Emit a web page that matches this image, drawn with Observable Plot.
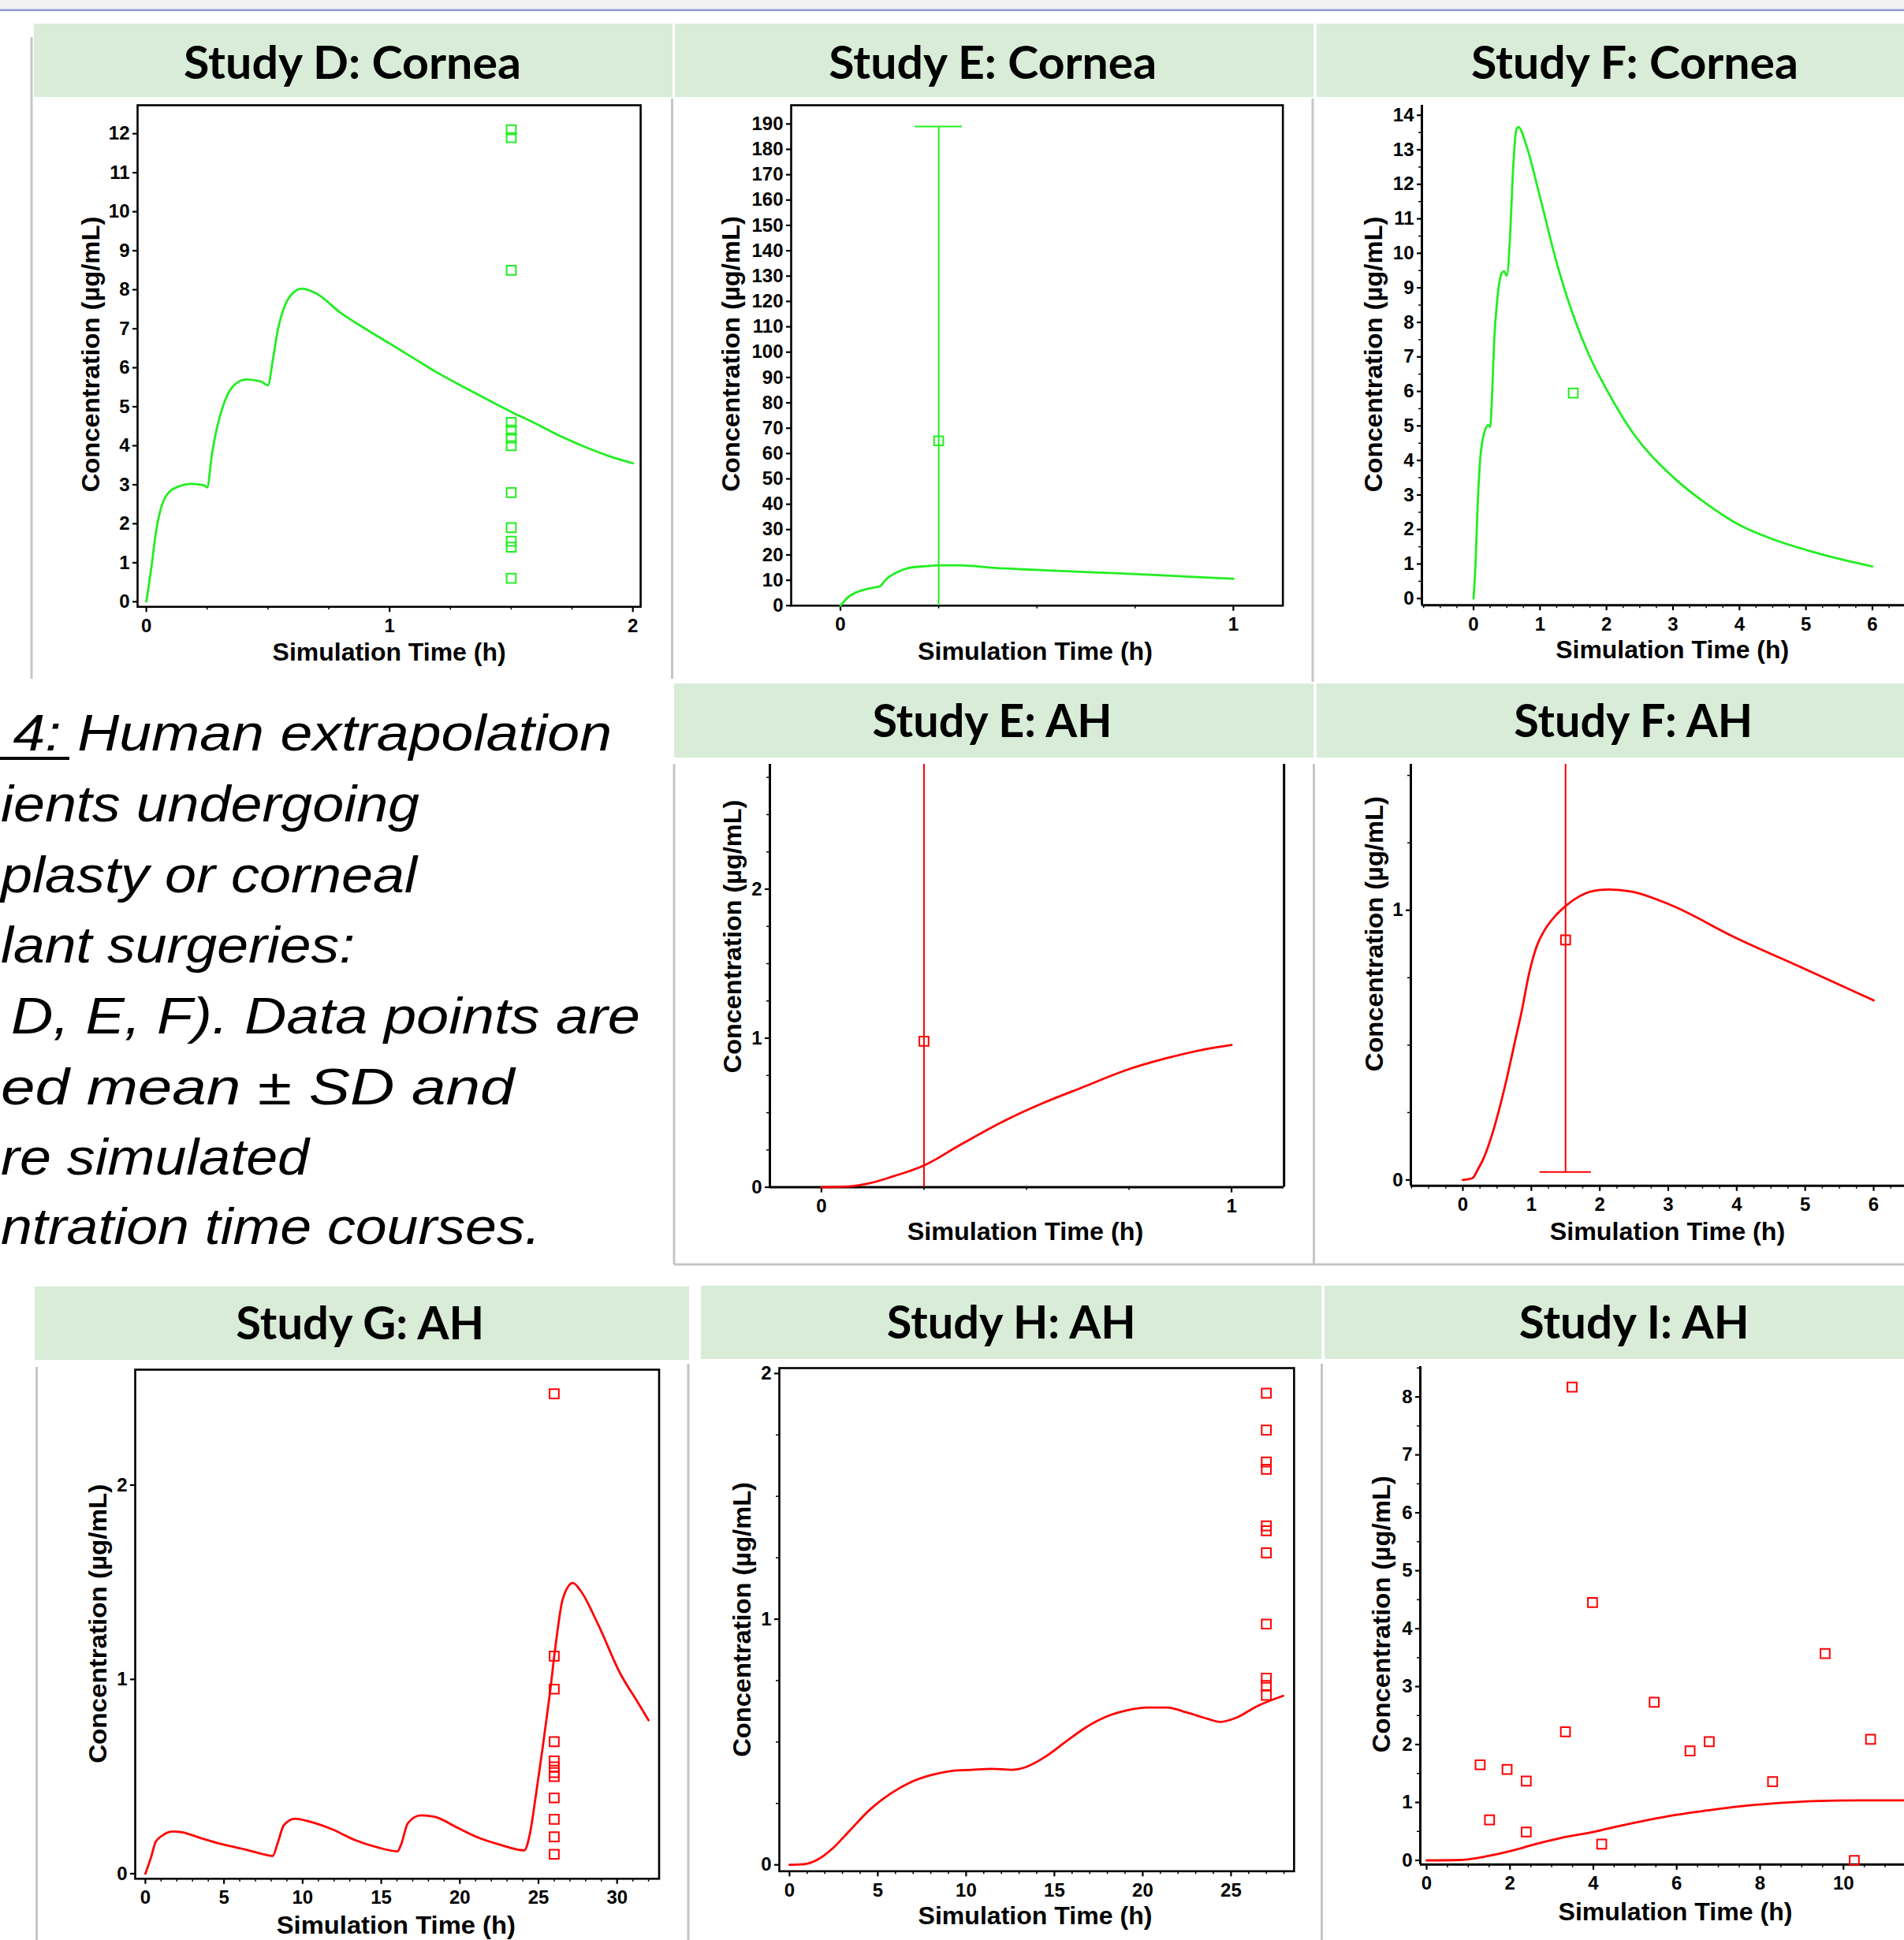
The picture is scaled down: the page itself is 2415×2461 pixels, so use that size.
<!DOCTYPE html>
<html>
<head>
<meta charset="utf-8">
<script src="https://cdn.jsdelivr.net/npm/d3@7"></script>
<script src="https://cdn.jsdelivr.net/npm/@observablehq/plot@0.6"></script>
<style>
html, body { margin: 0; padding: 0; background: #fff; }
#page { position: relative; width: 2415px; height: 2461px; overflow: hidden; background: #fff; }
.chart { position: absolute; }
.chart svg { max-width: none !important; display: block; overflow: visible; }
svg.layer { position: absolute; left: 0; top: 0; }
</style>
</head>
<body>
<div id="page"></div>
<script>
// ---------------- DATA ----------------
const GREEN = "#22ee22";
const RED = "#ff0000";

// Study D: Cornea
const dSimTime = [0, 0.02, 0.04, 0.08, 0.13, 0.18, 0.24, 0.25, 0.27, 0.29, 0.32, 0.36, 0.41, 0.47, 0.5, 0.52, 0.54, 0.57, 0.6, 0.64, 0.7, 0.8, 0.9, 1.0, 1.1, 1.2, 1.3, 1.4, 1.5, 1.6, 1.7, 1.8, 1.9, 2.0];
const dSimConc = [0, 0.85, 1.8, 2.7, 2.95, 3.02, 2.98, 2.93, 3.8, 4.45, 5.1, 5.55, 5.7, 5.65, 5.55, 6.2, 6.95, 7.6, 7.9, 8.03, 7.9, 7.4, 7.0, 6.62, 6.24, 5.86, 5.52, 5.19, 4.87, 4.57, 4.25, 3.98, 3.74, 3.55];
const dObsTime = [1.5, 1.5, 1.5, 1.5, 1.5, 1.5, 1.5, 1.5, 1.5, 1.5, 1.5, 1.5];
const dObsConc = [12.1, 11.9, 8.5, 4.6, 4.4, 4.2, 4.0, 2.8, 1.9, 1.55, 1.4, 0.6];

// Study E: Cornea
const eCorSimTime = [0, 0.02, 0.05, 0.08, 0.1, 0.115, 0.145, 0.175, 0.22, 0.25, 0.3, 0.4, 0.5, 0.6, 0.7, 0.8, 0.9, 1.0];
const eCorSimConc = [0, 3.4, 5.8, 7.0, 7.6, 10.2, 13.2, 14.9, 15.6, 15.9, 15.9, 14.8, 14.1, 13.4, 12.8, 12.1, 11.3, 10.6];
const eCorObsTime = [0.25];
const eCorObsConc = [65];
const eCorObsSD = [124];

// Study F: Cornea
const fCorSimTime = [0, 0.03, 0.063, 0.1, 0.16, 0.22, 0.25, 0.28, 0.31, 0.36, 0.42, 0.46, 0.5, 0.55, 0.59, 0.645, 0.675, 0.79, 1.0, 1.25, 1.5, 1.75, 2.0, 2.4, 3.0, 3.5, 4.0, 4.5, 5.0, 5.5, 6.0];
const fCorSimConc = [0, 1.0, 2.76, 4.03, 4.79, 5.02, 4.97, 5.93, 7.45, 8.72, 9.41, 9.48, 9.35, 10.5, 12.26, 13.59, 13.66, 13.15, 11.63, 9.73, 8.2, 7.0, 6.06, 4.79, 3.52, 2.75, 2.13, 1.72, 1.41, 1.15, 0.93];
const fCorObsTime = [1.5];
const fCorObsConc = [5.95];

// Study E: AH
const eAhSimTime = [0, 0.065, 0.116, 0.176, 0.25, 0.337, 0.437, 0.538, 0.638, 0.739, 0.839, 0.94, 1.0];
const eAhSimConc = [0, 0.005, 0.026, 0.074, 0.146, 0.282, 0.433, 0.562, 0.672, 0.782, 0.864, 0.928, 0.954];
const eAhObsTime = [0.25];
const eAhObsConc = [0.98];
const eAhObsSD = [2.0];

// Study F: AH
const fAhSimTime = [0, 0.139, 0.22, 0.305, 0.416, 0.527, 0.638, 0.749, 0.86, 0.97, 1.08, 1.19, 1.36, 1.525, 1.69, 1.913, 2.135, 2.468, 2.995, 3.993, 4.99, 6.0];
const fAhSimConc = [0, 0.007, 0.04, 0.082, 0.16, 0.259, 0.373, 0.5, 0.627, 0.769, 0.868, 0.925, 0.982, 1.021, 1.05, 1.072, 1.077, 1.069, 1.024, 0.897, 0.783, 0.666];
const fAhObsTime = [1.5];
const fAhObsConc = [0.89];
const fAhObsSD = [0.86];

// Study G: AH
const gSimTime = [0, 0.37, 0.65, 1.07, 1.77, 2.34, 3.46, 4.87, 6.28, 7.4, 8.1, 8.39, 8.81, 9.51, 10.5, 11.9, 13.3, 14.7, 16.04, 16.27, 16.69, 17.53, 18.38, 19.79, 21.19, 22.6, 24.09, 24.43, 24.85, 25.27, 25.7, 26.12, 26.54, 27.19, 27.67, 28.79, 30.2, 31.33, 32.0];
const gSimConc = [0, 0.087, 0.163, 0.196, 0.217, 0.213, 0.185, 0.152, 0.126, 0.102, 0.091, 0.152, 0.25, 0.283, 0.267, 0.228, 0.174, 0.137, 0.115, 0.152, 0.26, 0.3, 0.293, 0.239, 0.185, 0.148, 0.12, 0.196, 0.413, 0.652, 0.913, 1.196, 1.413, 1.496, 1.457, 1.283, 1.03, 0.88, 0.79];
const gObsTime = [26, 26, 26, 26, 26, 26, 26, 26, 26, 26, 26, 26];
const gObsConc = [2.47, 1.12, 0.95, 0.68, 0.58, 0.55, 0.52, 0.50, 0.39, 0.28, 0.19, 0.10];

// Study H: AH
const hSimTime = [0, 0.85, 1.55, 2.47, 3.39, 4.54, 5.7, 6.85, 8.0, 9.16, 10.31, 11.46, 12.6, 13.3, 14.46, 15.6, 16.77, 17.9, 19.07, 20.2, 21.38, 22.5, 23.7, 24.38, 25.3, 26.45, 27.95];
const hSimConc = [0, 0.003, 0.02, 0.069, 0.138, 0.224, 0.289, 0.336, 0.365, 0.382, 0.387, 0.391, 0.387, 0.396, 0.439, 0.499, 0.559, 0.602, 0.628, 0.64, 0.64, 0.62, 0.594, 0.582, 0.599, 0.645, 0.688];
const hObsTime = [27, 27, 27, 27, 27, 27, 27, 27, 27, 27, 27];
const hObsConc = [1.92, 1.77, 1.64, 1.61, 1.38, 1.36, 1.27, 0.98, 0.76, 0.73, 0.69];

// Study I: AH
const iSimTime = [0, 0.79, 1.24, 1.6, 2.05, 2.59, 3.22, 4.03, 4.56, 5.28, 6.0, 6.72, 7.53, 8.34, 9.24, 10.4, 11.46, 12.0];
const iSimConc = [0, 0.007, 0.044, 0.095, 0.168, 0.277, 0.387, 0.496, 0.584, 0.693, 0.788, 0.861, 0.934, 0.985, 1.022, 1.036, 1.036, 1.036];
const iObsTime = [1.285, 1.51, 1.93, 2.39, 2.39, 3.33, 3.49, 3.98, 4.2, 5.46, 6.32, 6.78, 8.3, 9.56, 10.26, 10.65];
const iObsConc = [1.65, 0.70, 1.57, 1.37, 0.49, 2.22, 8.17, 4.45, 0.28, 2.73, 1.89, 2.05, 1.36, 3.57, 0.0, 2.09];

// Tick labels
const ticks0to2 = [0, 1, 2];
const ticks0to1 = [0, 1];
const ticks0to6 = [0, 1, 2, 3, 4, 5, 6];
const ticksD_y = [0, 1, 2, 3, 4, 5, 6, 7, 8, 9, 10, 11, 12];
const ticksE_y = [0, 10, 20, 30, 40, 50, 60, 70, 80, 90, 100, 110, 120, 130, 140, 150, 160, 170, 180, 190];
const ticksF_y = [0, 1, 2, 3, 4, 5, 6, 7, 8, 9, 10, 11, 12, 13, 14];
const ticksG_x = [0, 5, 10, 15, 20, 25, 30];
const ticksH_x = [0, 5, 10, 15, 20, 25];
const ticksI_x = [0, 2, 4, 6, 8, 10];
const ticksI_y = [0, 1, 2, 3, 4, 5, 6, 7, 8];

// Text
const panelTitles = ["Study D: Cornea", "Study E: Cornea", "Study F: Cornea", "Study E: AH", "Study F: AH", "Study G: AH", "Study H: AH", "Study I: AH"];
const xTitle = "Simulation Time (h)";
const yTitle = "Concentration (µg/mL)";
const captionLines = ["4: Human extrapolation", "ients undergoing", "plasty or corneal", "lant surgeries:", "D, E, F). Data points are", "ed mean ± SD and", "re simulated", "ntration time courses."];

// ---------------- LAYOUT ----------------
const PW = 2415, PH = 2461;
const page = d3.select("#page");
const minor = (a, b, s, skip) => d3.range(a, b + 1e-9, s).filter(v => Math.abs(v / skip - Math.round(v / skip)) > 1e-6);

// background layer
const bg = page.append("svg").attr("class", "layer").attr("width", PW).attr("height", PH);
bg.append("rect").attr("x", 0).attr("y", 0).attr("width", PW).attr("height", 11.5).attr("fill", "#f2f2f2");
bg.append("rect").attr("x", 0).attr("y", 11.5).attr("width", PW).attr("height", 2.6).attr("fill", "#8f9bd3");
const bands = [
  [43, 30, 810, 93], [856, 30, 810, 93], [1670, 30, 760, 93],
  [855, 867, 811, 94], [1670, 867, 760, 94],
  [44, 1632, 830, 93], [889, 1631, 787, 93], [1680, 1631, 740, 93]
];
bands.forEach(b => bg.append("rect").attr("x", b[0]).attr("y", b[1]).attr("width", b[2]).attr("height", b[3]).attr("fill", "#d8ecd7"));
const seps = [
  [40, 47, 40, 861], [852.5, 125, 852.5, 861], [1665, 125, 1665, 865],
  [855, 969, 855, 1604], [1666.5, 969, 1666.5, 1604], [855, 1604, 2415, 1604],
  [46.5, 1734, 46.5, 2461], [873, 1730, 873, 2461], [1676.5, 1730, 1676.5, 2461]
];
seps.forEach(s => bg.append("line").attr("x1", s[0]).attr("y1", s[1]).attr("x2", s[2]).attr("y2", s[3]).attr("stroke", "#c6c6c6").attr("stroke-width", 3));

const tickFont = {fontFamily: "'Liberation Sans', Arial, sans-serif", fontWeight: "bold", fontSize: 24};

function drawChart(c) {
  const mL = 95, mR = 12, mT = 12, mB = 60;
  const [l, r, t, b] = c.frame;
  const fw = r - l, fh = b - t;
  const width = fw + mL + mR, height = fh + mT + mB;
  const sim = c.simT.map((x, i) => ({t: x, c: c.simC[i]}));
  const obs = c.obsT.map((x, i) => ({t: x, c: c.obsC[i], sd: c.obsSD ? c.obsSD[i] : 0}));
  const marks = [];
  if (c.box === "full") {
    marks.push(Plot.frame({stroke: "black", strokeWidth: 2.6}));
  } else {
    marks.push(Plot.ruleX([c.xd[0]], {stroke: "black", strokeWidth: 3}));
    marks.push(Plot.ruleY([c.yd[0]], {stroke: "black", strokeWidth: 3}));
    if (c.box === "openTop") marks.push(Plot.ruleX([c.xd[1]], {stroke: "black", strokeWidth: 3}));
  }
  if (c.xMin) marks.push(Plot.axisX({ticks: c.xMin, tickSize: 4, tickFormat: () => "", strokeWidth: 1.5, label: null}));
  if (c.yMin) marks.push(Plot.axisY({ticks: c.yMin, tickSize: 4, tickFormat: () => "", strokeWidth: 1.5, label: null}));
  marks.push(Plot.axisX({ticks: c.xMaj, tickSize: 7, tickPadding: 8, strokeWidth: 2.2, label: null, tickFormat: d => String(d), ...tickFont}));
  marks.push(Plot.axisY({ticks: c.yMaj, tickSize: 6, tickPadding: 4, strokeWidth: 2.2, label: null, tickFormat: d => String(d), ...tickFont}));
  marks.push(Plot.line(sim, {x: "t", y: "c", stroke: c.color, strokeWidth: 2.8, curve: "monotone-x"}));
  if (c.obsSD) {
    marks.push(Plot.ruleX(obs, {x: "t", y1: d => d.c - d.sd, y2: d => d.c + d.sd, stroke: c.color, strokeWidth: 2}));
    const caps = [];
    obs.forEach(d => {
      [d.c - d.sd, d.c + d.sd].forEach(v => { if (v >= c.yd[0] && v <= c.yd[1]) caps.push({t: d.t, v}); });
    });
    marks.push(Plot.ruleY(caps, {y: "v", x1: d => d.t - c.cap, x2: d => d.t + c.cap, stroke: c.color, strokeWidth: 2}));
  }
  marks.push(Plot.dot(obs, {x: "t", y: "c", symbol: "square", r: 6.6, stroke: c.color, fill: "none", strokeWidth: 2}));

  const svg = Plot.plot({
    width, height,
    marginLeft: mL, marginRight: mR, marginTop: mT, marginBottom: mB,
    x: {domain: c.xd, label: null},
    y: {domain: c.yd, label: null, clamp: true},
    style: {fontFamily: "'Liberation Sans', Arial, sans-serif", fontWeight: "bold", fontSize: "24px", color: "black", background: "transparent", overflow: "visible", maxWidth: "none"},
    marks
  });
  page.append("div").attr("class", "chart")
    .style("left", (l - mL) + "px").style("top", (t - mT) + "px")
    .style("width", width + "px").style("height", height + "px")
    .node().appendChild(svg);
}

const charts = [
  {frame: [174.4, 812.5, 133.2, 769.5], xd: [-0.036, 2.032], yd: [-0.13, 12.73], box: "full", color: GREEN,
   xMaj: ticks0to2, xMin: minor(0, 2, 0.25, 1), yMaj: ticksD_y,
   simT: dSimTime, simC: dSimConc, obsT: dObsTime, obsC: dObsConc},
  {frame: [1003, 1626.7, 133.2, 768], xd: [-0.1254, 1.126], yd: [0, 197.4], box: "full", color: GREEN,
   xMaj: ticks0to1, xMin: minor(0, 1, 0.25, 1), yMaj: ticksE_y,
   simT: eCorSimTime, simC: eCorSimConc, obsT: eCorObsTime, obsC: eCorObsConc, obsSD: eCorObsSD, cap: 0.06},
  {frame: [1802.5, 2440, 133.2, 767.4], xd: [-0.7767, 6.783], yd: [-0.192, 14.29], box: "L", color: GREEN,
   xMaj: ticks0to6, xMin: minor(-0.75, 6.75, 0.25, 1), yMaj: ticksF_y, yMin: minor(0, 14, 0.5, 1),
   simT: fCorSimTime, simC: fCorSimConc, obsT: fCorObsTime, obsC: fCorObsConc},
  {frame: [975.5, 1627.7, 969, 1505.6], xd: [-0.1257, 1.128], yd: [0, 2.838], box: "openTop", color: RED,
   xMaj: ticks0to1, xMin: minor(0, 1, 0.25, 1), yMaj: ticks0to2, yMin: minor(0, 2.75, 0.25, 1),
   simT: eAhSimTime, simC: eAhSimConc, obsT: eAhObsTime, obsC: eAhObsConc, obsSD: eAhObsSD, cap: 0.06},
  {frame: [1789, 2440, 969, 1503.7], xd: [-0.76, 6.737], yd: [-0.0213, 1.5414], box: "L", color: RED,
   xMaj: ticks0to6, xMin: minor(-0.75, 6.75, 0.25, 1), yMaj: ticks0to1, yMin: minor(0, 1.5, 0.25, 1),
   simT: fAhSimTime, simC: fAhSimConc, obsT: fAhObsTime, obsC: fAhObsConc, obsSD: fAhObsSD, cap: 0.375},
  {frame: [170.6, 835.1, 1736.9, 2382.7], xd: [-0.647, 32.67], yd: [-0.026, 2.594], box: "full", color: RED,
   xMaj: ticksG_x, xMin: minor(0, 32, 1, 5), yMaj: ticks0to2,
   simT: gSimTime, simC: gSimConc, obsT: gObsTime, obsC: gObsConc},
  {frame: [987.8, 1640.7, 1735.3, 2373.6], xd: [-0.576, 28.57], yd: [-0.026, 2.022], box: "full", color: RED,
   xMaj: ticksH_x, xMin: minor(0, 28, 1, 5), yMaj: ticks0to2, yMin: minor(0, 2, 0.25, 1),
   simT: hSimTime, simC: hSimConc, obsT: hObsTime, obsC: hObsConc},
  {frame: [1800.7, 2440, 1732.6, 2364.4], xd: [-0.151, 11.94], yd: [-0.072, 8.525], box: "L", color: RED,
   xMaj: ticksI_x, xMin: minor(0, 11.5, 0.5, 2), yMaj: ticksI_y, yMin: minor(0, 8.5, 0.5, 1),
   simT: iSimTime, simC: iSimConc, obsT: iObsTime, obsC: iObsConc}
];
charts.forEach(drawChart);

// text layer
const tx = page.append("svg").attr("class", "layer").attr("width", PW).attr("height", PH);
// panel titles: [cx, baseline, width]
const titlePos = [[447, 99.5, 428], [1259.3, 99.5, 416], [2073.5, 99.5, 415], [1258.5, 935, 304], [2071.7, 935, 303], [456.8, 1699, 315], [1282.8, 1698, 316], [2072.7, 1698, 292]];
panelTitles.forEach((s, i) => {
  const [x, y, w] = titlePos[i];
  tx.append("text").attr("x", x).attr("y", y).attr("text-anchor", "middle")
    .attr("font-family", "Lato, 'Open Sans', sans-serif").attr("font-weight", 700).attr("font-size", 58)
    .attr("textLength", w).attr("lengthAdjust", "spacingAndGlyphs").attr("fill", "#000").text(s);
});
// y axis titles: [baseline x, center y, width]
const yTitlePos = [[125.5, 449.5, 349.6], [938, 449, 349.6], [1753, 449.4, 349.6], [940, 1188, 346.6], [1754, 1184.7, 349], [134.5, 2059.8, 354], [951.5, 2054.4, 348.7], [1762.5, 2047.7, 351.3]];
yTitlePos.forEach(([x, y, w]) => {
  tx.append("text").attr("transform", `translate(${x},${y}) rotate(-90)`).attr("text-anchor", "middle")
    .attr("font-family", "'Liberation Sans', Arial, sans-serif").attr("font-weight", 700).attr("font-size", 32)
    .attr("textLength", w).attr("lengthAdjust", "spacingAndGlyphs").attr("fill", "#000").text(yTitle);
});
// x axis titles: [cx, baseline, width]
const xTitlePos = [[493.6, 838, 296], [1313, 837, 298], [2121.2, 835, 296], [1300.5, 1572.5, 299.7], [2115, 1572.5, 298.5], [502.3, 2453, 303], [1313, 2440.5, 297], [2125, 2436, 297]];
xTitlePos.forEach(([x, y, w]) => {
  tx.append("text").attr("x", x).attr("y", y).attr("text-anchor", "middle")
    .attr("font-family", "'Liberation Sans', Arial, sans-serif").attr("font-weight", 700).attr("font-size", 32)
    .attr("textLength", w).attr("lengthAdjust", "spacingAndGlyphs").attr("fill", "#000").text(xTitle);
});
// caption: [x start, x end, baseline]
const capPos = [[16.5, 776, 952], [1, 532, 1042], [1, 529, 1131.5], [1, 450, 1221], [14, 812, 1311], [1, 652.6, 1400.5], [1, 392, 1490], [1, 685.6, 1577.5]];
captionLines.forEach((s, i) => {
  const [x0, x1, y] = capPos[i];
  tx.append("text").attr("x", x0).attr("y", y)
    .attr("font-family", "'Liberation Sans', Arial, sans-serif").attr("font-style", "italic").attr("font-size", 64)
    .attr("textLength", x1 - x0).attr("lengthAdjust", "spacingAndGlyphs").attr("fill", "#000").text(s);
});
tx.append("line").attr("x1", 0).attr("y1", 962).attr("x2", 88).attr("y2", 962).attr("stroke", "#000").attr("stroke-width", 4);
</script>
</body>
</html>
